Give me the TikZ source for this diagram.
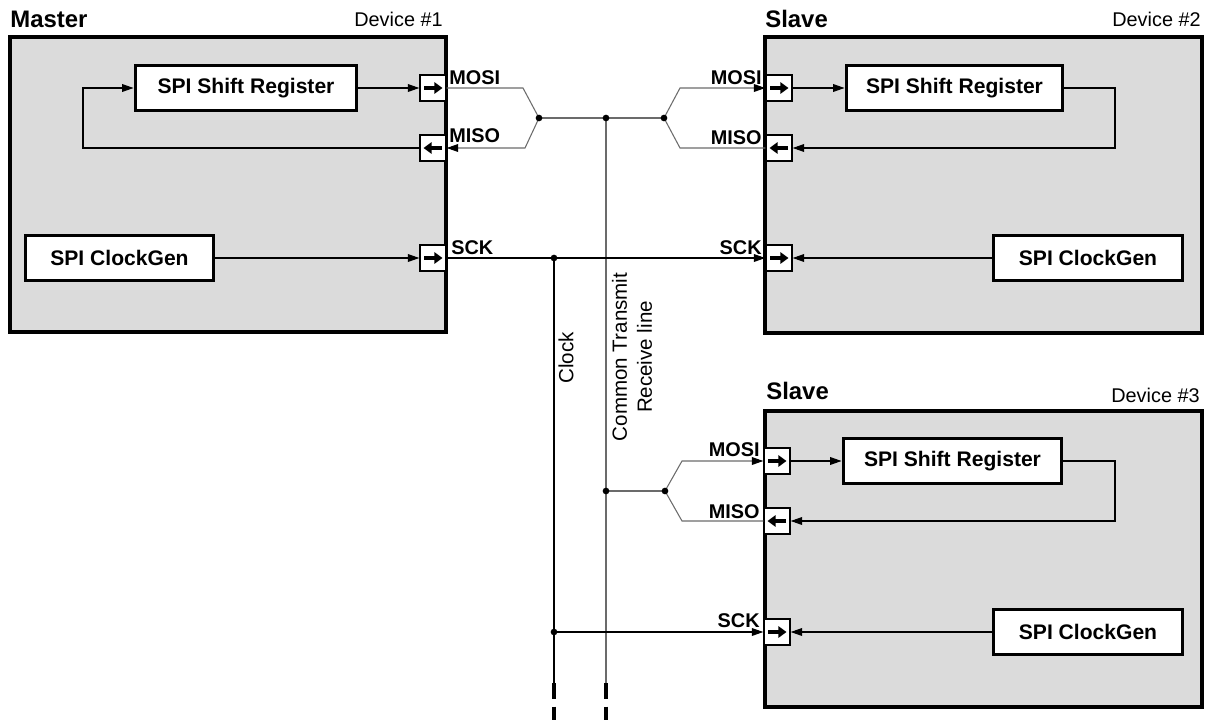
\documentclass[tikz,border=0pt]{standalone}
\usepackage{fontspec}
\setmainfont{Liberation Sans}
\usetikzlibrary{arrows.meta}
\definecolor{devfill}{gray}{0.86}
\definecolor{busgray}{gray}{0.42}
\newcommand\myRport[2]{\node[port] (#1) at (#2) {};
  \draw[parr] ([xshift=-0.18cm]#1.center) -- ([xshift=0.19cm]#1.center);}
\newcommand\myLport[2]{\node[port] (#1) at (#2) {};
  \draw[parr] ([xshift=0.18cm]#1.center) -- ([xshift=-0.19cm]#1.center);}
\begin{document}
\begin{tikzpicture}[x=0.02cm,y=-0.02cm,
  dev/.style={draw, line width=1.8pt, fill=devfill, inner sep=0pt},
  blk/.style={draw, line width=1.7pt, fill=white, inner sep=0pt, minimum height=0.9cm, font=\bfseries\fontsize{12}{14}\selectfont},
  port/.style={draw, line width=0.8pt, fill=white, minimum size=0.52cm, inner sep=0pt},
  parr/.style={line width=1.9pt, -{Triangle[length=4.6pt,width=6.4pt]}},
  conn/.style={line width=0.6pt, black},
  bus/.style={line width=0.6pt, busgray},
  arrowend/.style={-{Triangle[length=6.5pt,width=4.4pt,color=black]}},
  devtitle/.style={font=\bfseries\fontsize{13.6}{16}\selectfont, anchor=base west, inner sep=0pt},
  devno/.style={font=\fontsize{11.3}{13}\selectfont, anchor=base east, inner sep=0pt},
  plab/.style={font=\bfseries\fontsize{11.3}{13}\selectfont, inner sep=0pt},
  rotlab/.style={rotate=90, align=center, font=\fontsize{11.7}{14.2}\selectfont, inner sep=0pt},
  brk/.style={line width=2.3pt, dash pattern=on 9pt off 4.5pt},
]
\useasboundingbox (0,0) rectangle (1211,720);

% devices
\node[dev, minimum width=8.72cm, minimum height=5.9cm] (dev1) at (228,184.5) {};
\node[dev, minimum width=8.74cm, minimum height=5.92cm] (dev2) at (983.5,185) {};
\node[dev, minimum width=8.74cm, minimum height=5.92cm] (dev3) at (983.5,559) {};

\node[devtitle] (t1) at (10,28) {Master};
\node[devno] (n1) at (443,27) {Device \#1};
\node[devtitle] (t2) at (765,28) {Slave};
\node[devno] (n2) at (1201,27) {Device \#2};
\node[devtitle] (t3) at (766,399) {Slave};
\node[devno] (n3) at (1200,402) {Device \#3};

% blocks
\node[blk, minimum width=4.44cm] (sr1) at (246,88) {SPI Shift Register};
\node[blk, minimum width=3.78cm] (cg1) at (119.5,258) {SPI ClockGen};
\node[blk, minimum width=4.34cm] (sr2) at (954.5,88) {SPI Shift Register};
\node[blk, minimum width=3.8cm] (cg2) at (1088,258) {SPI ClockGen};
\node[blk, minimum width=4.38cm] (sr3) at (952.5,461) {SPI Shift Register};
\node[blk, minimum width=3.8cm] (cg3) at (1088,632) {SPI ClockGen};

% coordinates
\coordinate (j1) at (539,118);
\coordinate (j2) at (606,118);
\coordinate (j3) at (664,118);
\coordinate (j4) at (606,491);
\coordinate (j5) at (665,491);
\coordinate (k1) at (554,258);
\coordinate (k2) at (554,632);
\coordinate (b1) at (523,88);
\coordinate (b2) at (525,148);
\coordinate (b3) at (680,88);
\coordinate (b4) at (680,148);
\coordinate (b5) at (682,461);
\coordinate (b6) at (682,521);
\coordinate (ckend) at (554,683);
\coordinate (ckbot) at (554,720);
\coordinate (crend) at (606,683);
\coordinate (crbot) at (606,720);
\coordinate (ml) at (83,118);
\coordinate (s2l) at (1115,118);
\coordinate (s3l) at (1115,491);

% ports
\myRport{m-mosi}{433,88}
\myLport{m-miso}{433,148}
\myRport{m-sck}{433,258}
\myRport{s2-mosi}{779,88}
\myLport{s2-miso}{779,148}
\myRport{s2-sck}{779,258}
\myRport{s3-mosi}{777,461}
\myLport{s3-miso}{777,521}
\myRport{s3-sck}{777,632}

% master internal
\draw[conn,arrowend] (sr1.east) -- (m-mosi.west);
\draw[conn,arrowend] (m-miso.west) -| (ml) |- (sr1.west);
\draw[conn,arrowend] (cg1.east) -- (m-sck.west);

% data bus
\draw[bus] (m-mosi.east) -- (b1) -- (j1);
\draw[bus,arrowend] (j1) -- (b2) -- (m-miso.east);
\draw[bus] (j1) -- (j3);
\draw[bus,arrowend] (j3) -- (b3) -- (s2-mosi.west);
\draw[bus] (j3) -- (b4) -- (s2-miso.west);
\draw[bus] (j2) -- (crend);
\draw[bus] (j4) -- (j5);
\draw[bus,arrowend] (j5) -- (b5) -- (s3-mosi.west);
\draw[bus] (j5) -- (b6) -- (s3-miso.west);

% clock
\draw[conn,arrowend] (m-sck.east) -- (s2-sck.west);
\draw[conn] (k1) -- (ckend);
\draw[conn,arrowend] (k2) -- (s3-sck.west);

% slave 2 internal
\draw[conn,arrowend] (s2-mosi.east) -- (sr2.west);
\draw[conn,arrowend] (sr2.east) -| (s2l) |- (s2-miso.east);
\draw[conn,arrowend] (cg2.west) -- (s2-sck.east);

% slave 3 internal
\draw[conn,arrowend] (s3-mosi.east) -- (sr3.west);
\draw[conn,arrowend] (sr3.east) -| (s3l) |- (s3-miso.east);
\draw[conn,arrowend] (cg3.west) -- (s3-sck.east);

% breaks
\draw[brk] (ckend) -- (ckbot);
\draw[brk] (crend) -- (crbot);

% dots
\foreach \p in {j1,j2,j3,j4,j5,k1,k2} \fill (\p) circle[radius=1.9pt];

% labels
\node[plab, anchor=base west] (l-m-mosi) at (449,84) {MOSI};
\node[plab, anchor=base west] (l-m-miso) at (449,142) {MISO};
\node[plab, anchor=base west] (l-m-sck) at (451,254) {SCK};
\node[plab, anchor=base east] (l-s2-mosi) at (762,84) {MOSI};
\node[plab, anchor=base east] (l-s2-miso) at (762,144) {MISO};
\node[plab, anchor=base east] (l-s2-sck) at (762,254) {SCK};
\node[plab, anchor=base east] (l-s3-mosi) at (760,456) {MOSI};
\node[plab, anchor=base east] (l-s3-miso) at (760,518) {MISO};
\node[plab, anchor=base east] (l-s3-sck) at (760,627) {SCK};

\node[rotlab] (clk) at (566,358) {Clock};
\node[rotlab] (ctr) at (632,357) {Common Transmit\\Receive line};
\end{tikzpicture}
\end{document}
